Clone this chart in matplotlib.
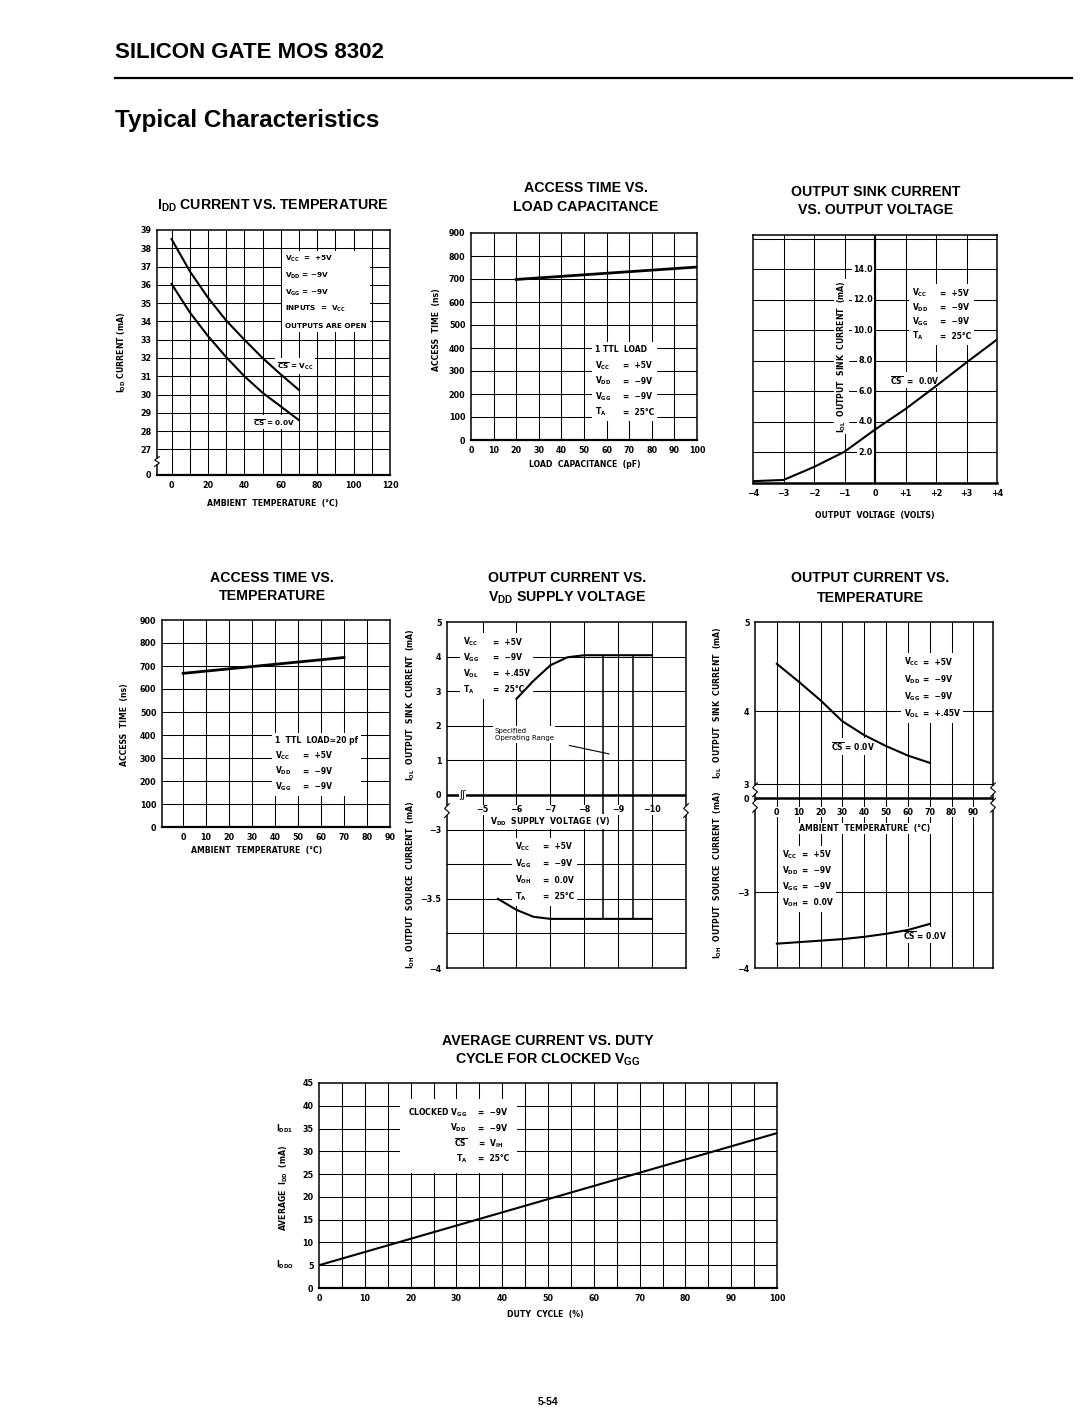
import numpy as np
import matplotlib
matplotlib.use("Agg")
import matplotlib.pyplot as plt
from matplotlib import font_manager
from matplotlib.patches import Rectangle
from matplotlib.transforms import Bbox

# ---- data ----
# I_DD current vs temperature
idd_temp = [0, 10, 20, 30, 40, 50, 60, 70]
idd_cs_vcc = [38.5, 36.75, 35.3, 34.05, 33.0, 32.0, 31.1, 30.25]
idd_cs_0v = [36.05, 34.5, 33.2, 32.05, 31.0, 30.1, 29.35, 28.6]

# access time vs load capacitance
load_cap = [20, 100]
access_vs_cap = [698, 752]

# output sink current vs output voltage
out_volt = [-4, -3, -2, -1, 0, 1, 2, 3, 4]
sink_current = [0.12, 0.2, 1.05, 2.05, 3.5, 4.85, 6.35, 7.9, 9.4]

# access time vs temperature
acc_temp = [0, 70]
access_vs_temp = [668, 737]

# output current vs V_DD supply voltage
vdd_sink = [-6, -6.5, -7, -7.5, -8, -10]
iol_vs_vdd = [2.78, 3.3, 3.75, 3.98, 4.04, 4.04]
vdd_source = [-5.45, -6, -6.5, -7, -10]
ioh_vs_vdd = [-3.5, -3.58, -3.63, -3.645, -3.645]
spec_range = [-8.55, -9.45]

# output current vs temperature
oc_temp = [0, 10, 20, 30, 40, 50, 60, 70]
iol_vs_temp = [4.53, 4.33, 4.12, 3.86, 3.67, 3.52, 3.39, 3.29]
ioh_vs_temp = [-3.68, -3.66, -3.64, -3.62, -3.59, -3.55, -3.5, -3.42]

# average current vs duty cycle
duty = [0, 100]
avg_idd = [5, 34]

# ---- fonts ----
def have(name):
    try:
        font_manager.findfont(name, fallback_to_default=False)
        return True
    except Exception:
        return False

HEAD = "Liberation Sans" if have("Liberation Sans") else "DejaVu Sans"
plt.rcParams["font.family"] = ["DejaVu Sans"]
plt.rcParams["mathtext.default"] = "regular"

W, H = 1080, 1428
fig = plt.figure(figsize=(W / 100, H / 100), dpi=100)
fig.patch.set_facecolor("white")

LW_CURVE = 1.5
LW_GRID = 0.75
TICK = 5.8     # tick label size
LAB = 5.6      # axis label size
NOTE = 5.5     # annotation size


def px_axes(l, t, r, b):
    return fig.add_axes([l / W, 1 - b / H, (r - l) / W, (b - t) / H])


def ftext(x, y, s, **kw):
    kw.setdefault("ha", "center")
    kw.setdefault("va", "center")
    fig.text(x / W, 1 - y / H, s, **kw)


def title(x, y, s):
    ftext(x, y, s, fontsize=10.2, fontweight="bold", family=HEAD)


def small(x, y, s, rot=0):
    ftext(x, y, s, fontsize=LAB, fontweight="bold", rotation=rot)


def style(ax, xt, xl, yt, yl, pad=4):
    ax.set_xticks(xt, xl)
    ax.set_yticks(yt, yl)
    ax.tick_params(length=0, labelsize=TICK, pad=pad)
    for lab in ax.get_xticklabels() + ax.get_yticklabels():
        lab.set_fontweight("bold")
    for sp in ax.spines.values():
        sp.set_linewidth(1.1)


def grid(ax, xs=(), ys=()):
    for x in xs:
        ax.axvline(x, color="black", lw=LW_GRID, zorder=1)
    for y in ys:
        ax.axhline(y, color="black", lw=LW_GRID, zorder=1)


def note(ax, x, y, s, size=NOTE, weight="bold"):
    ax.text(x, y, s, transform=ax.transAxes, fontsize=size, ha="left", va="center",
            fontweight=weight, linespacing=1.25, zorder=3,
            bbox=dict(fc="white", ec="none", pad=1.2))


def block(ax, x_lab, y0, dy, rows, x_val=None, ha="left", size=NOTE, pad=3):
    # rows of "label  = value" text on a white patch that breaks the grid
    arts = []
    for i, row in enumerate(rows):
        y = y0 - i * dy
        lab, val = row if isinstance(row, tuple) else (row, None)
        arts.append(ax.text(x_lab, y, lab, transform=ax.transAxes, ha=ha, va="center",
                            fontsize=size, fontweight="bold", zorder=3))
        if val:
            arts.append(ax.text(x_val, y, val, transform=ax.transAxes, ha="left", va="center",
                                fontsize=size, fontweight="bold", zorder=3))
    r = fig.canvas.get_renderer()
    bb = Bbox.union([a.get_window_extent(r) for a in arts]).padded(pad)
    bb = bb.transformed(ax.transAxes.inverted())
    ax.add_patch(Rectangle((bb.x0, bb.y0), bb.width, bb.height, transform=ax.transAxes,
                           fc="white", ec="none", zorder=2.5))


def tick_text(ax, x, y, s):
    ax.text(x, y, s, ha="center", va="center", fontsize=TICK, fontweight="bold",
            zorder=3, bbox=dict(fc="white", ec="none", pad=0.4))


def brk(ax, xf, yf):
    # little zig-zag break mark on a spine
    ax.add_patch(Rectangle((xf - 0.012, yf - 0.012), 0.024, 0.024, transform=ax.transAxes,
                           fc="white", ec="none", clip_on=False, zorder=4))
    ax.plot([xf - 0.01, xf + 0.01, xf - 0.01, xf + 0.01],
            [yf - 0.02, yf - 0.006, yf + 0.006, yf + 0.02],
            transform=ax.transAxes, color="black", lw=0.8, clip_on=False, zorder=5)


def piecewise(knots_y, knots_v):
    ky = np.asarray(knots_y, float)
    kv = np.asarray(knots_v, float)
    s0 = (kv[1] - kv[0]) / (ky[1] - ky[0])
    s1 = (kv[-1] - kv[-2]) / (ky[-1] - ky[-2])
    ky2 = np.r_[ky[0] - 100, ky, ky[-1] + 100]
    kv2 = np.r_[kv[0] - 100 * s0, kv, kv[-1] + 100 * s1]
    return (lambda y: np.interp(y, ky2, kv2)), (lambda v: np.interp(v, kv2, ky2))


# ---- page header ----
ftext(115, 52, "SILICON GATE MOS 8302", ha="left", fontsize=16, fontweight="bold", family=HEAD)
fig.add_artist(plt.Line2D([115 / W, 1072 / W], [1 - 78 / H, 1 - 78 / H], color="black", lw=1.6))
ftext(115, 120, "Typical Characteristics", ha="left", fontsize=17.5, fontweight="bold", family=HEAD)
ftext(548, 1402, "5-54", fontsize=7.5, fontweight="bold", family=HEAD)

# ---- 1: I_DD current vs temperature ----
ax1 = px_axes(157, 230, 390, 475)
ax1.set_xlim(-8, 120)
ax1.set_ylim(25.6, 39)
grid(ax1, xs=range(0, 120, 10), ys=range(27, 39))
ax1.plot(idd_temp, idd_cs_vcc, color="black", lw=LW_CURVE, zorder=4)
ax1.plot(idd_temp, idd_cs_0v, color="black", lw=LW_CURVE, zorder=4)
style(ax1, range(0, 121, 20), [str(v) for v in range(0, 121, 20)],
      [25.6] + list(range(27, 40)), ["0"] + [str(v) for v in range(27, 40)])
ax1.spines["bottom"].set_linewidth(1.6)
brk(ax1, 0, 0.055)
block(ax1, 0.55, 0.88, 0.068,
      ["V$_{CC}$  =  +5V", "V$_{DD}$ = −9V", "V$_{GG}$ = −9V", "INPUTS  =  V$_{CC}$",
       "OUTPUTS ARE OPEN"], size=5.2)
note(ax1, 0.515, 0.445, "$\\overline{CS}$ = V$_{CC}$", size=5.2)
note(ax1, 0.41, 0.215, "$\\overline{CS}$ = 0.0V", size=5.2)
title(273, 206, "I$_{DD}$ CURRENT VS. TEMPERATURE")
small(122, 352, "I$_{DD}$ CURRENT (mA)", rot=90)
small(273, 503, "AMBIENT  TEMPERATURE  (°C)")

# ---- 2: access time vs load capacitance ----
ax2 = px_axes(471, 233, 697, 440)
ax2.set_xlim(0, 100)
ax2.set_ylim(0, 900)
grid(ax2, xs=range(10, 100, 10), ys=range(100, 900, 100))
ax2.plot(load_cap, access_vs_cap, color="black", lw=2.0, zorder=4)
style(ax2, range(0, 101, 10), [str(v) for v in range(0, 101, 10)],
      range(0, 901, 100), [str(v) for v in range(0, 901, 100)])
ax2.spines["bottom"].set_linewidth(1.6)
block(ax2, 0.549, 0.435, 0.075,
      ["1 TTL  LOAD", ("V$_{CC}$", "=  +5V"), ("V$_{DD}$", "=  −9V"),
       ("V$_{GG}$", "=  −9V"), ("T$_A$", "=  25°C")], x_val=0.673)
title(586, 188, "ACCESS TIME VS.")
title(586, 207, "LOAD CAPACITANCE")
small(437, 330, "ACCESS  TIME  (ns)", rot=90)
small(585, 465, "LOAD  CAPACITANCE  (pF)")

# ---- 3: output sink current vs output voltage ----
ax3 = px_axes(753, 235, 997, 483)
ax3.set_xlim(-4, 4)
ax3.set_ylim(0, 16.25)
grid(ax3, xs=[-3, -2, -1, 1, 2, 3], ys=range(2, 17, 2))
ax3.axvline(0, color="black", lw=1.6, zorder=2)
ax3.plot(out_volt, sink_current, color="black", lw=LW_CURVE, zorder=4)
style(ax3, range(-4, 5), ["−4", "−3", "−2", "−1", "0", "+1", "+2", "+3", "+4"], [], [])
ax3.spines["bottom"].set_linewidth(1.8)
for v in range(2, 15, 2):
    ax3.text(-0.08, v, f"{v}.0", ha="right", va="center", fontsize=TICK, fontweight="bold",
             zorder=3, bbox=dict(fc="white", ec="none", pad=0.8))
ax3.text(-1.1, 8.3, "I$_{OL}$  OUTPUT  SINK  CURRENT  (mA)", rotation=90, ha="center", va="center",
         fontsize=LAB, fontweight="bold", zorder=3, bbox=dict(fc="white", ec="none", pad=1.0))
block(ax3, 0.652, 0.766, 0.058,
      [("V$_{CC}$", "=  +5V"), ("V$_{DD}$", "=  −9V"), ("V$_{GG}$", "=  −9V"), ("T$_A$", "=  25°C")],
      x_val=0.766)
note(ax3, 0.56, 0.415, "$\\overline{CS}$  =  0.0V")
title(876, 192, "OUTPUT SINK CURRENT")
title(876, 210, "VS. OUTPUT VOLTAGE")
small(875, 515, "OUTPUT  VOLTAGE  (VOLTS)")

# ---- 4: access time vs temperature ----
ax4 = px_axes(162, 620, 390, 827)
ax4.set_xlim(-9.2, 90)
ax4.set_ylim(0, 900)
grid(ax4, xs=range(0, 90, 10), ys=range(100, 900, 100))
ax4.plot(acc_temp, access_vs_temp, color="black", lw=2.0, zorder=4)
style(ax4, range(0, 91, 10), [str(v) for v in range(0, 91, 10)],
      range(0, 901, 100), [str(v) for v in range(0, 901, 100)])
ax4.spines["bottom"].set_linewidth(1.6)
block(ax4, 0.496, 0.42, 0.075,
      ["1  TTL  LOAD≃20 pf", ("V$_{CC}$", "=  +5V"), ("V$_{DD}$", "=  −9V"), ("V$_{GG}$", "=  −9V")],
      x_val=0.618)
title(272, 578, "ACCESS TIME VS.")
title(272, 596, "TEMPERATURE")
small(125, 725, "ACCESS  TIME  (ns)", rot=90)
small(257, 851, "AMBIENT  TEMPERATURE  (°C)")

# ---- 5: output current vs V_DD supply voltage ----
ax5 = px_axes(447, 622, 686, 968)
fwd5, inv5 = piecewise([-4, -3, 0, 5], [-5, -1, 0, 5])
ax5.set_yscale("function", functions=(fwd5, inv5))
ax5.set_xlim(-3.95, -11)
ax5.set_ylim(-4, 5)
grid(ax5, xs=range(-5, -11, -1), ys=[1, 2, 3, 4, -3, -3.25, -3.5, -3.75])
ax5.axhline(0, color="black", lw=1.8, zorder=2)
ax5.vlines(spec_range, ioh_vs_vdd[-1], iol_vs_vdd[-1], color="black", lw=1.1, zorder=3)
ax5.plot(vdd_sink, iol_vs_vdd, color="black", lw=LW_CURVE, zorder=4)
ax5.plot(vdd_source, ioh_vs_vdd, color="black", lw=LW_CURVE, zorder=4)
style(ax5, [], [], [5, 4, 3, 2, 1, 0, -3, -3.5, -4],
      ["5", "4", "3", "2", "1", "0", "−3", "−3.5", "−4"])
for v in range(-5, -11, -1):
    tick_text(ax5, v, -1.3, f"−{-v}")
ax5.text(-7.0, -2.3, "V$_{DD}$  SUPPLY  VOLTAGE  (V)", ha="center", va="center", fontsize=LAB,
         fontweight="bold", zorder=3, bbox=dict(fc="white", ec="none", pad=0.8))
ax5.text(-4.4, 0, "ʃʃ", ha="center", va="center", fontsize=7,
         zorder=3, bbox=dict(fc="white", ec="none", pad=0.2))
brk(ax5, 0, 0.455)
brk(ax5, 1, 0.455)
block(ax5, 0.067, 0.942, 0.0455,
      [("V$_{CC}$", "=  +5V"), ("V$_{GG}$", "=  −9V"), ("V$_{OL}$", "=  +.45V"), ("T$_A$", "=  25°C")],
      x_val=0.192)
note(ax5, 0.2, 0.675, "Specified\nOperating Range", size=5, weight="normal")
ax5.annotate("", xy=(0.69, 0.617), xytext=(0.5, 0.645), xycoords="axes fraction",
             arrowprops=dict(arrowstyle="-", lw=0.8, color="black"), zorder=4)
block(ax5, 0.285, 0.35, 0.048,
      [("V$_{CC}$", "=  +5V"), ("V$_{GG}$", "=  −9V"), ("V$_{OH}$", "=  0.0V"), ("T$_A$", "=  25°C")],
      x_val=0.402)
title(567, 578, "OUTPUT CURRENT VS.")
title(567, 598, "V$_{DD}$ SUPPLY VOLTAGE")
small(411, 705, "I$_{OL}$  OUTPUT  SINK  CURRENT  (mA)", rot=90)
small(411, 885, "I$_{OH}$  OUTPUT  SOURCE  CURRENT  (mA)", rot=90)

# ---- 6: output current vs temperature ----
ax6 = px_axes(755, 622, 993, 968)
fwd6, inv6 = piecewise([-4, -3, 0, 3, 4, 5], [-968, -892, -798, -784, -711, -622])
ax6.set_yscale("function", functions=(fwd6, inv6))
ax6.set_xlim(-10, 99)
ax6.set_ylim(-4, 5)
grid(ax6, xs=range(0, 91, 10), ys=[4, 3, -3])
ax6.axhline(0, color="black", lw=1.8, zorder=2)
ax6.plot(oc_temp, iol_vs_temp, color="black", lw=LW_CURVE, zorder=4)
ax6.plot(oc_temp, ioh_vs_temp, color="black", lw=LW_CURVE, zorder=4)
style(ax6, [], [], [5, 4, 3, 0, -3, -4], ["5", "4", "3", "0", "−3", "−4"])
for v in range(0, 91, 10):
    tick_text(ax6, v, -0.45, str(v))
ax6.text(40, -0.97, "AMBIENT  TEMPERATURE  (°C)", ha="center", va="center", fontsize=LAB,
         fontweight="bold", zorder=3, bbox=dict(fc="white", ec="none", pad=0.8))
brk(ax6, 0, 0.47)
brk(ax6, 0, 0.515)
brk(ax6, 1, 0.47)
brk(ax6, 1, 0.515)
block(ax6, 0.626, 0.884, 0.0495,
      [("V$_{CC}$", "=  +5V"), ("V$_{DD}$", "=  −9V"), ("V$_{GG}$", "=  −9V"), ("V$_{OL}$", "=  +.45V")],
      x_val=0.706)
note(ax6, 0.32, 0.64, "$\\overline{CS}$ = 0.0V")
block(ax6, 0.113, 0.327, 0.046,
      [("V$_{CC}$", "=  +5V"), ("V$_{DD}$", "=  −9V"), ("V$_{GG}$", "=  −9V"), ("V$_{OH}$", "=  0.0V")],
      x_val=0.197)
note(ax6, 0.62, 0.095, "$\\overline{CS}$ = 0.0V")
title(870, 578, "OUTPUT CURRENT VS.")
title(870, 598, "TEMPERATURE")
small(718, 703, "I$_{OL}$  OUTPUT  SINK  CURRENT  (mA)", rot=90)
small(718, 875, "I$_{OH}$  OUTPUT  SOURCE  CURRENT  (mA)", rot=90)

# ---- 7: average current vs duty cycle ----
ax7 = px_axes(319, 1083, 777, 1288)
ax7.set_xlim(0, 100)
ax7.set_ylim(0, 45)
grid(ax7, xs=range(5, 100, 5), ys=range(5, 45, 5))
ax7.plot(duty, avg_idd, color="black", lw=LW_CURVE, zorder=4)
style(ax7, range(0, 101, 10), [str(v) for v in range(0, 101, 10)],
      range(0, 46, 5), [str(v) for v in range(0, 46, 5)])
ax7.spines["bottom"].set_linewidth(1.6)
block(ax7, 0.323, 0.854, 0.0745,
      [("CLOCKED V$_{GG}$", "=  −9V"), ("V$_{DD}$", "=  −9V"), ("$\\overline{CS}$", "=  V$_{IH}$"),
       ("T$_A$", "=  25°C")], x_val=0.347, ha="right", pad=8)
title(548, 1041, "AVERAGE CURRENT VS. DUTY")
title(548, 1060, "CYCLE FOR CLOCKED V$_{GG}$")
small(284, 1188, "AVERAGE  I$_{DD}$  (mA)", rot=90)
small(285, 1129, "I$_{DD1}$")
small(285, 1265, "I$_{DDO}$")
small(545, 1315, "DUTY  CYCLE  (%)")

fig.savefig("out.png", dpi=100, facecolor="white")
